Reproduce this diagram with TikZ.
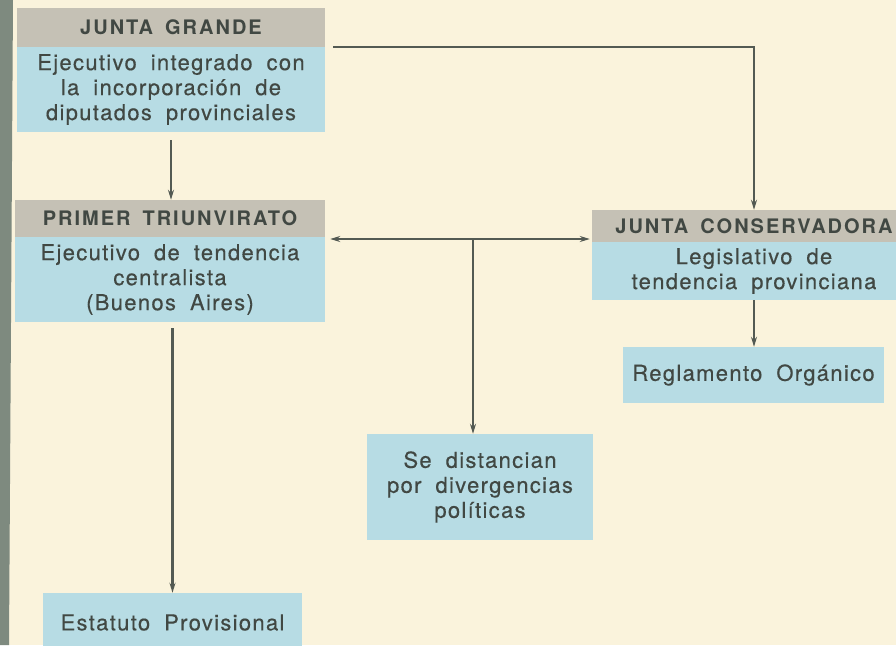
\documentclass[tikz,border=0pt]{standalone}
\usepackage{fontspec}
\setmainfont{TeX Gyre Heros}
\newfontfamily\bodyfont[LetterSpace=6,FakeBold=0.4]{TeX Gyre Heros}
\newfontfamily\headfont[LetterSpace=10]{TeX Gyre Heros}
\usetikzlibrary{arrows.meta}
\definecolor{bg}{HTML}{FAF3DC}
\definecolor{boxblue}{HTML}{B7DCE4}
\definecolor{hdgrey}{HTML}{C5C1B5}
\definecolor{ink}{HTML}{414843}
\definecolor{linec}{HTML}{535a53}
\definecolor{stripc}{HTML}{7E8A7F}
\begin{document}
\begin{tikzpicture}[x=1pt,y=-1pt,
  hdbox/.style={fill=hdgrey, inner sep=0pt, text=ink,
    font={\headfont\bfseries\fontsize{20}{24}\selectfont\spaceskip=12pt}},
  bodybox/.style={fill=boxblue, inner sep=0pt, text=ink, align=center,
    font={\bodyfont\fontsize{22}{25}\selectfont\spaceskip=14pt}},
  conn/.style={draw=linec, line width=2.4pt, -{Stealth[length=10pt,width=6pt]}},
  dblconn/.style={draw=linec, line width=2.4pt, {Stealth[length=10pt,width=6pt]}-{Stealth[length=10pt,width=6pt]}},
]
\useasboundingbox (0,0) rectangle (896,645);
\fill[bg] (0,0) rectangle (896,645);
\fill[stripc] (0,0) -- (13,0) -- (9,645) -- (0,645) -- cycle;

% Junta Grande
\node[hdbox, minimum width=308pt, minimum height=39pt] (jgH) at (171,27.5) {JUNTA GRANDE};
\node[bodybox, minimum width=308pt, minimum height=85pt] (jgB) at (171,89.5)
  {Ejecutivo integrado con\\la incorporación de\\diputados provinciales};

% Primer Triunvirato
\node[hdbox, minimum width=310pt, minimum height=37pt] (triH) at (170,218.5) {PRIMER TRIUNVIRATO};
\node[bodybox, minimum width=310pt, minimum height=85pt] (triB) at (170,279.5)
  {Ejecutivo de tendencia\\centralista\\(Buenos Aires)};

% Junta Conservadora
\node[hdbox, minimum width=324pt, minimum height=32pt] (consH) at (754,226) {JUNTA CONSERVADORA};
\node[bodybox, minimum width=324pt, minimum height=58pt] (consB) at (754,271)
  {Legislativo de\\tendencia provinciana};

% Reglamento
\node[bodybox, minimum width=261pt, minimum height=56pt] (regl) at (753.5,375) {Reglamento Orgánico};

% Se distancian
\node[bodybox, minimum width=226pt, minimum height=106pt] (sed) at (480,487)
  {Se distancian\\por divergencias\\políticas};

% Estatuto
\node[bodybox, minimum width=259pt, minimum height=59pt] (est) at (172.5,622.5) {Estatuto Provisional};

% connectors
\draw[conn, shorten <=8pt] (jgB.south) -- (jgB.south |- triH.north);
\draw[conn, shorten <=8pt] (jgH.south east) -| (consH.north);
\coordinate (split) at (473,239);
\draw[dblconn, shorten <=5pt, shorten >=2pt] (triH.east |- split) -- (consH.west |- split);
\draw[conn] (split) -- (split |- sed.north);
\draw[conn] (consB.south) -- (consB.south |- regl.north);
\draw[conn, shorten <=6pt] (triB.south -| est.north) -- (est.north);
\end{tikzpicture}
\end{document}
